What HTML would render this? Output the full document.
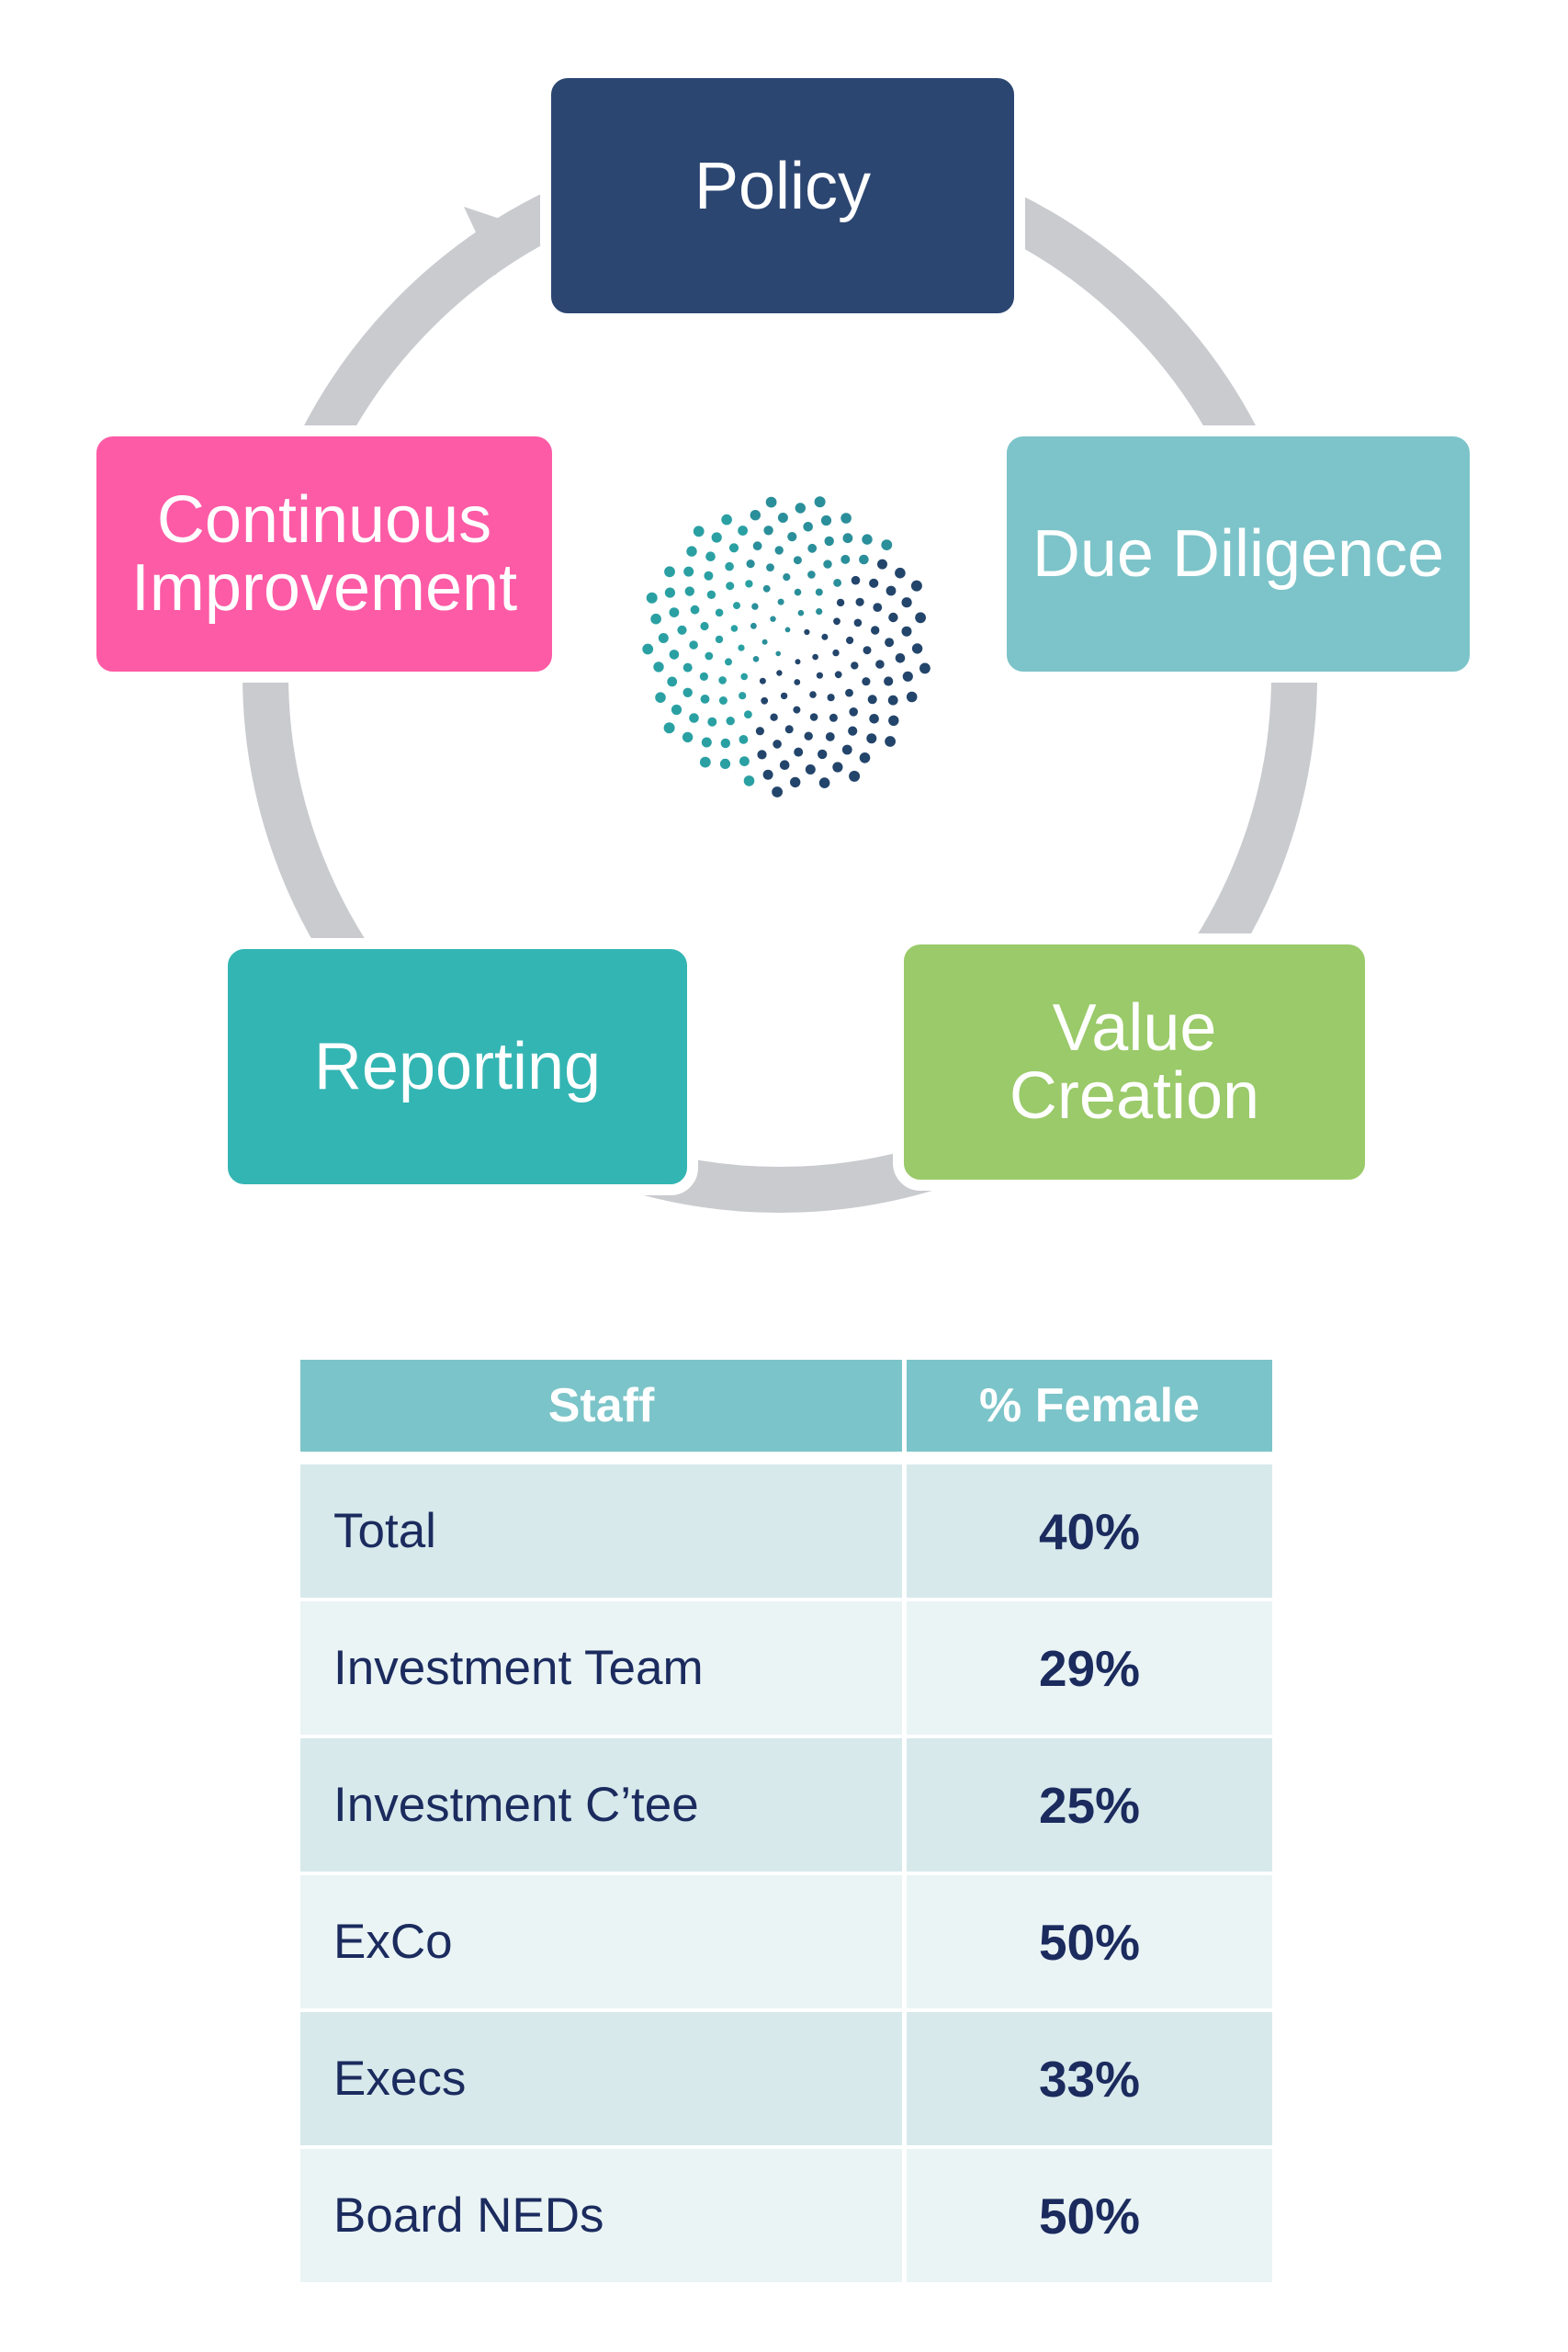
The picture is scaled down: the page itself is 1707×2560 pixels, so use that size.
<!DOCTYPE html>
<html><head><meta charset="utf-8"><style>
html,body{margin:0;padding:0;background:#fff;}
body{width:1707px;height:2560px;position:relative;overflow:hidden;font-family:"Liberation Sans",sans-serif;}
.box{position:absolute;border-radius:30px;color:#fff;display:flex;align-items:center;justify-content:center;text-align:center;font-size:72px;line-height:74px;border:12px solid #fff;box-sizing:border-box;}
table{position:absolute;left:327px;top:1480px;border-collapse:collapse;width:1058px;}
td{padding:0;height:145px;font-size:53px;color:#1b2b5e;border-bottom:4px solid #fff;}
td.l{padding-left:36px;width:619px;border-right:5px solid #fff;}
td.r{text-align:center;font-weight:bold;font-size:55px;}
</style></head><body>
<svg width="1707" height="1450" style="position:absolute;left:0;top:0">
<circle cx="849" cy="735" r="560" fill="none" stroke="#c9cbcf" stroke-width="50"/>
<polygon points="505,225 550,240 540,300" fill="#c9cbcf"/>
<g id="dots"></g>
</svg>
<div class="box" style="left:588px;top:73px;width:528px;height:280px;background:#2c4672;"><span style="position:relative;top:-10px">Policy</span></div>
<div class="box" style="left:1084px;top:463px;width:528px;height:280px;background:#7cc4c9;">Due Diligence</div>
<div class="box" style="left:972px;top:1016px;width:526px;height:280px;background:#9aca69;">Value<br>Creation</div>
<div class="box" style="left:236px;top:1021px;width:524px;height:280px;background:#33b5b3;">Reporting</div>
<div class="box" style="left:93px;top:463px;width:520px;height:280px;background:#fd5ba6;">Continuous<br>Improvement</div>
<table>
<tr><td class="l" style="background:#7bc4c9;color:#fff;font-weight:bold;text-align:center;padding-left:0;height:100px;border-bottom:14px solid #fff;font-size:52px">Staff</td><td class="r" style="background:#7bc4c9;color:#fff;height:100px;border-bottom:14px solid #fff;font-size:52px">% Female</td></tr>
<tr style="background:#d7e9eb"><td class="l">Total</td><td class="r">40%</td></tr>
<tr style="background:#eaf4f5"><td class="l">Investment Team</td><td class="r">29%</td></tr>
<tr style="background:#d7e9eb"><td class="l">Investment C’tee</td><td class="r">25%</td></tr>
<tr style="background:#eaf4f5"><td class="l">ExCo</td><td class="r">50%</td></tr>
<tr style="background:#d7e9eb"><td class="l">Execs</td><td class="r">33%</td></tr>
<tr style="background:#eaf4f5"><td class="l">Board NEDs</td><td class="r">50%</td></tr>
</table>
<script>
var g=document.getElementById('dots'),s='',N=170,cx=856,cy=703,R=155;
for(var i=1;i<=N;i++){var r=R*Math.sqrt(i/N),a=i*2.39996;var x=cx+r*Math.cos(a),y=cy+r*Math.sin(a)*1.05;
var t=(x-cx+y-cy)/(2*R);var col=t<0?'#2a8f9a':'#23456b';if(x<cx-40)col='#2aa0a3';
s+='<circle cx="'+x.toFixed(1)+'" cy="'+y.toFixed(1)+'" r="'+(2.5+3.5*r/R).toFixed(1)+'" fill="'+col+'"/>';}
g.innerHTML=s;
</script>
</body></html>
